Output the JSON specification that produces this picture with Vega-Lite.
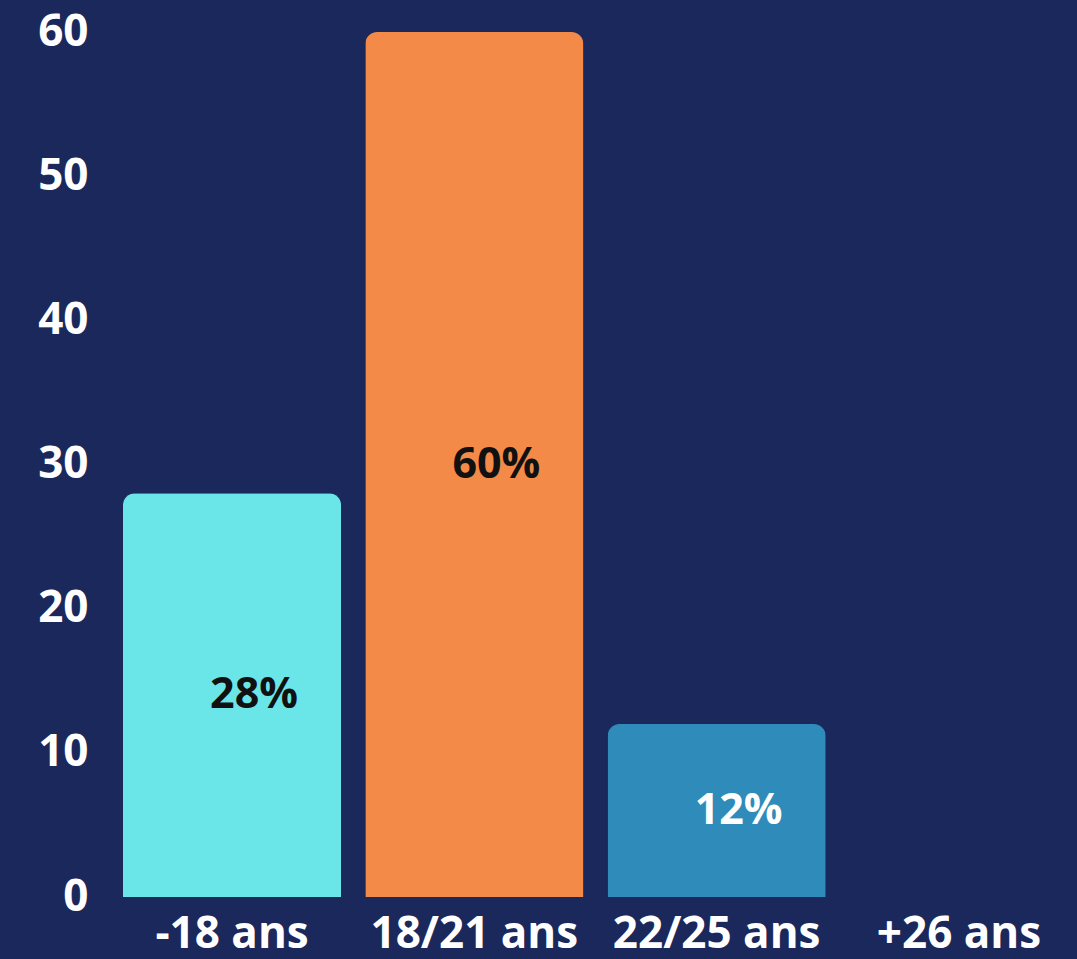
{
  "$schema": "https://vega.github.io/schema/vega-lite/v6.json",
  "autosize": {"type": "none"},
  "padding": {"left": 123, "top": 32, "right": 9, "bottom": 62},
  "width": 945,
  "height": 865,
  "background": "#1b285c",
  "config": {
    "view": {"stroke": null},
    "font": "Open Sans"
  },
  "data": {
    "values": [
      {"age": "-18 ans", "pct": 28, "label": "28%", "color": "#6be6e8", "textColor": "#111111"},
      {"age": "18/21 ans", "pct": 60, "label": "60%", "color": "#f48a48", "textColor": "#111111"},
      {"age": "22/25 ans", "pct": 12, "label": "12%", "color": "#2e8bba", "textColor": "#ffffff"},
      {"age": "+26 ans", "pct": 0, "label": "", "color": "#1b285c", "textColor": "#ffffff"}
    ]
  },
  "encoding": {
    "x": {
      "field": "age",
      "type": "nominal",
      "sort": null,
      "scale": {"domain": ["-18 ans", "18/21 ans", "22/25 ans", "+26 ans"], "paddingInner": 0.1, "paddingOuter": 0},
      "axis": {
        "title": null,
        "labelAngle": 0,
        "labelColor": "#ffffff",
        "labelFont": "Open Sans",
        "labelFontWeight": "bold",
        "labelFontSize": 44,
        "labelPadding": 15,
        "labelLimit": 400,
        "labelOverlap": false,
        "ticks": false,
        "domain": false,
        "grid": false
      }
    }
  },
  "layer": [
    {
      "mark": {"type": "bar", "cornerRadiusTopLeft": 12, "cornerRadiusTopRight": 12},
      "encoding": {
        "y": {
          "field": "pct",
          "type": "quantitative",
          "scale": {"domain": [0, 60], "nice": false},
          "axis": {
            "title": null,
            "values": [0, 10, 20, 30, 40, 50, 60],
            "labelColor": "#ffffff",
            "labelFont": "Open Sans",
            "labelFontWeight": "bold",
            "labelFontSize": 44,
            "labelPadding": 35,
            "labelFlush": false,
            "ticks": false,
            "domain": false,
            "grid": false
          }
        },
        "color": {"field": "color", "type": "nominal", "scale": null, "legend": null}
      }
    },
    {
      "transform": [{"filter": "datum.pct > 0"}, {"calculate": "datum.pct / 2", "as": "mid"}],
      "mark": {"type": "text", "font": "Open Sans", "fontWeight": "bold", "fontSize": 43, "dx": 22, "baseline": "middle"},
      "encoding": {
        "y": {"field": "mid", "type": "quantitative"},
        "text": {"field": "label"},
        "color": {"field": "textColor", "type": "nominal", "scale": null, "legend": null}
      }
    }
  ]
}
